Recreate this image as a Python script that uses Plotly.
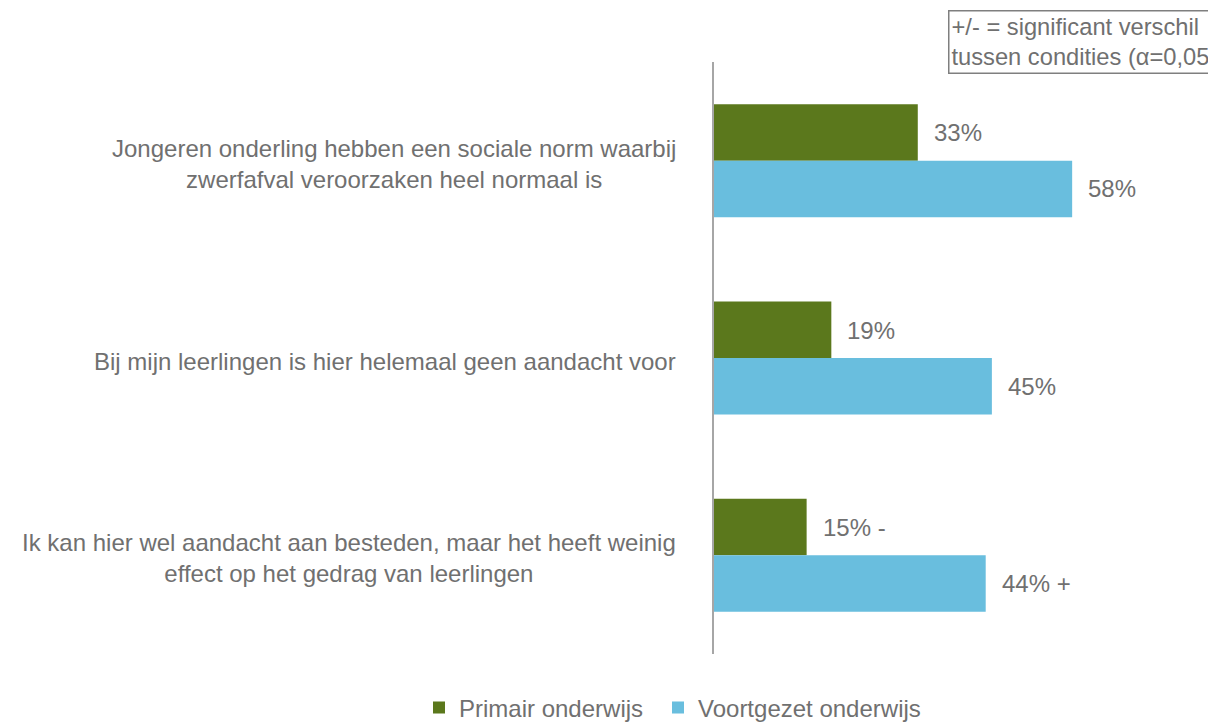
import plotly.graph_objects as go

categories = [
    "Jongeren onderling hebben een sociale norm waarbij<br>zwerfafval veroorzaken heel normaal is",
    "Bij mijn leerlingen is hier helemaal geen aandacht voor",
    "Ik kan hier wel aandacht aan besteden, maar het heeft weinig<br>effect op het gedrag van leerlingen",
]
series_names = ["Primair onderwijs", "Voortgezet onderwijs"]
primair = [33, 19, 15]
voortgezet = [58, 45, 44]
primair_sig = ["", "", " -"]
voortgezet_sig = ["", "", " +"]
note_text = "+/- = significant verschil<br>tussen condities (α=0,05)"

GREEN = "#5B781C"
BLUE = "#69BEDE"
TEXT = "#707070"
FONT = "Liberation Sans, Arial, sans-serif"
FS = 24

# page is offset by the default 8px body margin; size figure accordingly
W, H = 1208, 714

fig = go.Figure()
fig.add_trace(go.Bar(y=categories, x=primair, name=series_names[0], orientation="h",
                     marker=dict(color=GREEN, line=dict(width=0)), hoverinfo="skip",
                     legend="legend"))
fig.add_trace(go.Bar(y=categories, x=voortgezet, name=series_names[1], orientation="h",
                     marker=dict(color=BLUE, line=dict(width=0)), hoverinfo="skip",
                     legend="legend2"))

annotations = []
for cat, v, s in zip(categories, primair, primair_sig):
    annotations.append(dict(x=v, y=cat, xref="x", yref="y", text=f"{v}%{s}", showarrow=False,
                            xanchor="left", yanchor="middle", xshift=14, yshift=28,
                            font=dict(family=FONT, size=FS, color=TEXT)))
for cat, v, s in zip(categories, voortgezet, voortgezet_sig):
    annotations.append(dict(x=v, y=cat, xref="x", yref="y", text=f"{v}%{s}", showarrow=False,
                            xanchor="left", yanchor="middle", xshift=14, yshift=-28,
                            font=dict(family=FONT, size=FS, color=TEXT)))
for cat in categories:
    annotations.append(dict(x=0, y=cat, xref="paper", yref="y", text=cat, showarrow=False,
                            xanchor="right", yanchor="middle", align="center", xshift=-36, yshift=-3,
                            font=dict(family=FONT, size=FS, color=TEXT)))
annotations.append(dict(x=(948 - 714) / 494, y=(654 - 10) / 592, xref="paper", yref="paper",
                        text=note_text, showarrow=False, xanchor="left", yanchor="top", align="left",
                        bordercolor="#7F7F7F", borderwidth=1.5, borderpad=2,
                        font=dict(family=FONT, size=23.7, color=TEXT)))

legend_common = dict(orientation="h", xref="container", yref="container", y=14 / H,
                     xanchor="center", yanchor="middle", itemwidth=30,
                     font=dict(family=FONT, size=FS, color=TEXT), bgcolor="rgba(0,0,0,0)")

fig.update_layout(
    width=W, height=H,
    margin=dict(l=706, r=8, t=54, b=68),
    paper_bgcolor="white", plot_bgcolor="white",
    barmode="group", bargap=0.427, bargroupgap=0,
    font=dict(family=FONT, size=FS, color=TEXT),
    xaxis=dict(range=[0, 80], visible=False, showgrid=False, zeroline=False),
    yaxis=dict(autorange="reversed", showticklabels=False, showgrid=False, zeroline=False,
               showline=True, linecolor="#A6A6A6", linewidth=1.5, ticks=""),
    showlegend=True,
    legend=dict(x=526 / W, **legend_common),
    legend2=dict(x=784 / W, **legend_common),
    annotations=annotations,
)

fig.write_html("out.html")
